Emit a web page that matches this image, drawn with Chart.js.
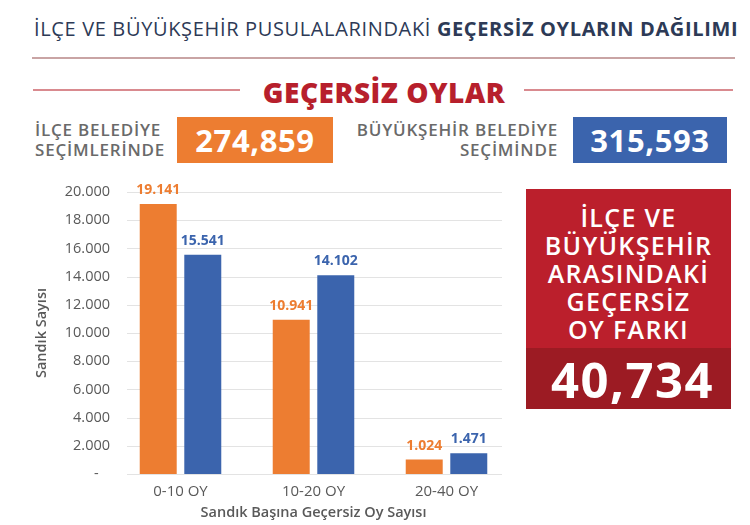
<!DOCTYPE html>
<html>
<head>
<meta charset="utf-8">
<script src="https://cdn.jsdelivr.net/npm/chart.js@4/dist/chart.umd.min.js"></script>
<style>
  html, body { margin: 0; padding: 0; background: #ffffff; }
  #page { position: relative; width: 750px; height: 525px; overflow: hidden; background: #fff; font-family: "Open Sans", "DejaVu Sans", sans-serif; }
  .abs { position: absolute; }
  #title { left: 34px; top: 15px; font-size: 20px; letter-spacing: 0.65px; color: #2d3a56; white-space: nowrap; }
  #title b { font-weight: 700; }
  #titleLine { left: 32px; top: 57px; width: 703px; height: 2px; background: #c9a4a4; }
  #sub { left: 9px; width: 750px; top: 73px; text-align: center; font-size: 28px; letter-spacing: 0.5px; font-weight: 800; color: #b71f2c; }
  #subL { left: 33px; top: 89px; width: 207px; height: 2px; background: #d98a8f; }
  #subR { left: 524px; top: 89px; width: 209px; height: 2px; background: #d98a8f; }
  .lbl { font-size: 17px; letter-spacing: 0.8px; font-weight: 600; color: #6a6a6a; line-height: 20px; white-space: nowrap; }
  .box { color: #fff; font-weight: 700; font-size: 31px; letter-spacing: 0.6px; display: flex; align-items: center; justify-content: center; }
  #redTop { left: 526px; top: 189px; width: 205px; height: 159px; background: #bb1f2c; color: #fff; text-align: center; font-size: 25px; letter-spacing: 1.3px; font-weight: 600; line-height: 28px; padding-top: 14px; box-sizing: border-box; white-space: nowrap; }
  #redBot { left: 526px; top: 348px; width: 205px; height: 61px; background: #9c1b23; color: #fff; font-size: 49px; letter-spacing: 1.5px; font-weight: 700; display: flex; align-items: center; justify-content: center; padding-left: 8px; box-sizing: border-box; }
  #chartWrap { left: 0; top: 170px; width: 520px; height: 355px; }
</style>
</head>
<body>
<div id="page">
  <div id="title" class="abs">İLÇE VE BÜYÜKŞEHİR PUSULALARINDAKİ <b>GEÇERSİZ OYLARIN DAĞILIMI</b></div>
  <div id="titleLine" class="abs"></div>
  <div id="subL" class="abs"></div>
  <div id="sub" class="abs">GEÇERSİZ OYLAR</div>
  <div id="subR" class="abs"></div>

  <div class="abs lbl" style="left:35px; top:120px;">İLÇE BELEDİYE<br>SEÇİMLERİNDE</div>
  <div class="abs box" id="boxO" style="left:177px; top:117px; width:156px; height:46px; background:#ed7d31;"></div>
  <div class="abs lbl" style="left:300px; width:258px; top:120px; text-align:right;">BÜYÜKŞEHİR BELEDİYE<br>SEÇİMİNDE</div>
  <div class="abs box" id="boxB" style="left:573px; top:117px; width:154px; height:46px; background:#3b64ad;"></div>

  <div class="abs" id="redTop">İLÇE VE<br>BÜYÜKŞEHİR<br>ARASINDAKİ<br>GEÇERSİZ<br>OY FARKI</div>
  <div class="abs" id="redBot"></div>

  <div class="abs" id="chartWrap"><canvas id="c" width="520" height="355"></canvas></div>
</div>
<script>
// ---- data ----
const categories = ["0-10 OY", "10-20 OY", "20-40 OY"];
const ilceValues = [19141, 10941, 1024];
const buyuksehirValues = [15541, 14102, 1471];
const seriesNames = ["İlçe Belediye", "Büyükşehir Belediye"];
const yTicks = [0, 2000, 4000, 6000, 8000, 10000, 12000, 14000, 16000, 18000, 20000];
const totalIlce = "274,859";
const totalBuyuksehir = "315,593";
const farkTotal = "40,734";
const xAxisTitle = "Sandık Başına Geçersiz Oy Sayısı";
const yAxisTitle = "Sandık Sayısı";

document.getElementById('boxO').textContent = totalIlce;
document.getElementById('boxB').textContent = totalBuyuksehir;
document.getElementById('redBot').textContent = farkTotal;

const ORANGE = "#ed7d31", BLUE = "#3b64ad";
const fmt = v => v.toLocaleString('de-DE');
const FONT = '"Open Sans", sans-serif';

const gridPlugin = {
  id: 'customGrid',
  beforeDatasetsDraw(chart) {
    const y = chart.scales.y, ctx = chart.ctx;
    ctx.save();
    ctx.strokeStyle = '#e3e3e3';
    ctx.lineWidth = 1;
    yTicks.forEach(t => {
      const py = Math.round(y.getPixelForValue(t)) + 0.5;
      ctx.beginPath();
      ctx.moveTo(127, py);
      ctx.lineTo(502, py);
      ctx.stroke();
    });
    ctx.restore();
  }
};

const labelPlugin = {
  id: 'valueLabels',
  afterDatasetsDraw(chart) {
    const ctx = chart.ctx;
    ctx.save();
    ctx.font = 'bold 14px ' + FONT;
    ctx.textAlign = 'center';
    ctx.textBaseline = 'middle';
    chart.data.datasets.forEach((ds, i) => {
      const meta = chart.getDatasetMeta(i);
      ctx.fillStyle = ds.backgroundColor;
      meta.data.forEach((bar, j) => {
        ctx.fillText(fmt(ds.data[j]), bar.x, bar.y - 14);
      });
    });
    ctx.restore();
  }
};

new Chart(document.getElementById('c'), {
  type: 'bar',
  data: {
    labels: categories,
    datasets: [
      { label: seriesNames[0], data: ilceValues, backgroundColor: ORANGE, categoryPercentage: 0.67, barPercentage: 0.83 },
      { label: seriesNames[1], data: buyuksehirValues, backgroundColor: BLUE, categoryPercentage: 0.67, barPercentage: 0.83 }
    ]
  },
  options: {
    responsive: false,
    animation: false,
    layout: { padding: { top: 22, right: 7, left: 0, bottom: 0 } },
    plugins: { legend: { display: false }, tooltip: { enabled: false } },
    scales: {
      x: {
        grid: { display: false, drawTicks: false },
        border: { display: false },
        ticks: { color: '#595959', font: { family: FONT, size: 15 }, padding: 9 },
        title: { display: true, text: xAxisTitle, color: '#595959', font: { family: FONT, size: 14.5, weight: '600' }, padding: { top: 4, bottom: 3 } },
        afterFit(s) { s.height = 51; }
      },
      y: {
        min: 0, max: 20000,
        afterBuildTicks(s) { s.ticks = yTicks.map(v => ({ value: v })); },
        grid: { display: false, drawTicks: false },
        border: { display: false },
        ticks: { color: '#595959', font: { family: FONT, size: 14.5 }, padding: 4,
          callback: v => v === 0 ? '-   ' : fmt(v) },
        title: { display: true, text: yAxisTitle, color: '#595959', font: { family: FONT, size: 14.5, weight: '600' }, padding: { top: 33, bottom: 4 } },
        afterFit(s) { s.width = 114; }
      }
    }
  },
  plugins: [gridPlugin, labelPlugin]
});
</script>
</body>
</html>
